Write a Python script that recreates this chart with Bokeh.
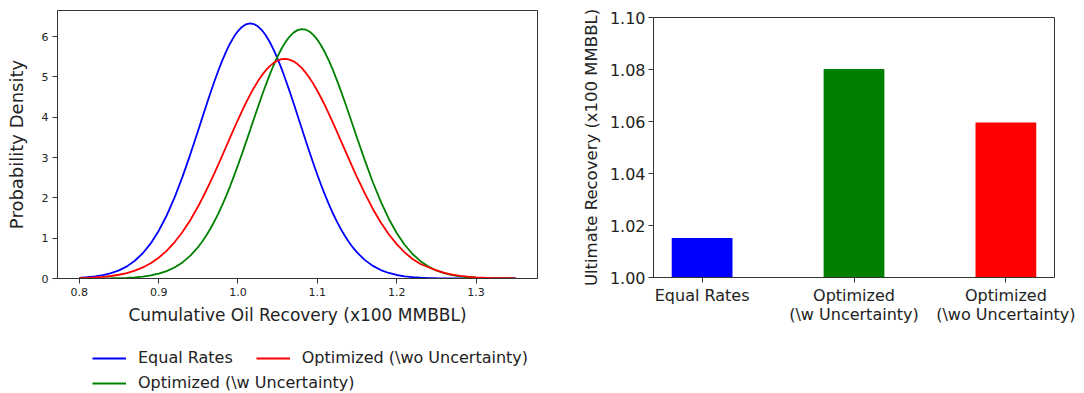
from bokeh.plotting import figure
from bokeh.models import Range1d, FixedTicker, Legend, LegendItem, NumeralTickFormatter
from bokeh.layouts import row, column
from bokeh.embed import file_html
from bokeh.resources import INLINE

# ---------------- data ----------------
recovery = [0.80, 0.81, 0.82, 0.83, 0.84, 0.85, 0.86, 0.87, 0.88, 0.89,
            0.90, 0.91, 0.92, 0.93, 0.94, 0.95,
            0.955, 0.96, 0.965, 0.97, 0.975, 0.98, 0.985, 0.99, 0.995, 1.00,
            1.005, 1.01, 1.015, 1.02, 1.025, 1.03, 1.035, 1.04, 1.045, 1.05,
            1.055, 1.06, 1.065, 1.07, 1.075, 1.08, 1.085, 1.09, 1.095, 1.10,
            1.105, 1.11, 1.115, 1.12, 1.125, 1.13, 1.135, 1.14, 1.145,
            1.15, 1.16, 1.17, 1.18, 1.19, 1.20, 1.21, 1.22, 1.23, 1.24,
            1.25, 1.26, 1.27, 1.28, 1.29, 1.30, 1.31, 1.32, 1.33, 1.34, 1.35]

equal_rates = [0.018, 0.031, 0.051, 0.083, 0.131, 0.201, 0.301, 0.440, 0.627, 0.870,
               1.180, 1.558, 2.007, 2.521, 3.087, 3.687,
               3.992, 4.294, 4.591, 4.877, 5.148, 5.401, 5.630, 5.832, 6.003, 6.141,
               6.243, 6.306, 6.330, 6.314, 6.258, 6.165, 6.034, 5.869, 5.673, 5.449,
               5.200, 4.933, 4.649, 4.354, 4.052, 3.748, 3.445, 3.146, 2.855, 2.575,
               2.308, 2.055, 1.819, 1.600, 1.398, 1.214, 1.048, 0.898, 0.765,
               0.648, 0.456, 0.313, 0.209, 0.137, 0.087, 0.054, 0.033, 0.019, 0.011,
               0.006, 0.003, 0.002, 0.001, 0.001, 0.000, 0.000, 0.000, 0.000, 0.000, 0.000]

opt_w_unc = [0.000, 0.001, 0.002, 0.003, 0.006, 0.010, 0.017, 0.029, 0.048, 0.077,
             0.121, 0.184, 0.274, 0.399, 0.567, 0.787,
             0.919, 1.065, 1.229, 1.408, 1.604, 1.817, 2.045, 2.288, 2.545, 2.813,
             3.092, 3.377, 3.667, 3.958, 4.246, 4.529, 4.800, 5.058, 5.297, 5.515,
             5.707, 5.871, 6.003, 6.101, 6.163, 6.189, 6.178, 6.130, 6.046, 5.927,
             5.776, 5.595, 5.387, 5.156, 4.905, 4.638, 4.360, 4.074, 3.784,
             3.493, 2.924, 2.389, 1.906, 1.484, 1.128, 0.838, 0.607, 0.430, 0.297,
             0.200, 0.132, 0.085, 0.053, 0.032, 0.019, 0.011, 0.006, 0.004, 0.002, 0.001]

opt_wo_unc = [0.010, 0.017, 0.026, 0.041, 0.062, 0.093, 0.135, 0.194, 0.274, 0.379,
              0.515, 0.687, 0.898, 1.153, 1.453, 1.798,
              1.987, 2.184, 2.390, 2.603, 2.821, 3.044, 3.269, 3.495, 3.719, 3.939,
              4.152, 4.356, 4.549, 4.729, 4.892, 5.039, 5.165, 5.269, 5.351, 5.409,
              5.442, 5.450, 5.432, 5.389, 5.321, 5.231, 5.116, 4.982, 4.829, 4.659,
              4.473, 4.275, 4.067, 3.851, 3.630, 3.405, 3.179, 2.954, 2.733,
              2.516, 2.104, 1.726, 1.390, 1.099, 0.852, 0.649, 0.485, 0.360, 0.280,
              0.200, 0.140, 0.095, 0.065, 0.045, 0.030, 0.020, 0.013, 0.009, 0.006, 0.004]

x_ticks = [0.8, 0.9, 1.0, 1.1, 1.2, 1.3]
y_ticks = [0, 1, 2, 3, 4, 5, 6]

series_labels = ["Equal Rates", "Optimized (\\w Uncertainty)", "Optimized (\\wo Uncertainty)"]
series_colors = ["#0000ff", "#008000", "#ff0000"]

bar_categories = ["Equal Rates", "Optimized\n(\\w Uncertainty)", "Optimized\n(\\wo Uncertainty)"]
bar_values = [1.0152, 1.0802, 1.0596]
bar_colors = ["#0000ff", "#008000", "#ff0000"]
bar_y_ticks = [1.00, 1.02, 1.04, 1.06, 1.08, 1.10]

FONT = "DejaVu Sans"
TXT = "#222222"
AX = "#333333"


def style_axes(p, tick_size):
    p.xgrid.grid_line_color = None
    p.ygrid.grid_line_color = None
    p.outline_line_color = AX
    p.outline_line_width = 1
    p.outline_line_alpha = 1
    p.background_fill_color = "white"
    p.border_fill_color = "white"
    for ax in (p.xaxis[0], p.yaxis[0]):
        ax.axis_line_color = AX
        ax.major_tick_line_color = AX
        ax.major_tick_in = 0
        ax.major_tick_out = 5
        ax.minor_tick_line_color = None
        ax.major_label_text_font = FONT
        ax.major_label_text_font_size = tick_size
        ax.major_label_text_color = TXT
        ax.axis_label_text_font = FONT
        ax.axis_label_text_font_style = "normal"
        ax.axis_label_text_color = TXT


series = [equal_rates, opt_w_unc, opt_wo_unc]

# ---------------- left: density curves ----------------
p1 = figure(width=553, height=328, output_backend="svg", toolbar_location=None,
            x_range=Range1d(0.7725, 1.3775), y_range=Range1d(0, 6.65),
            min_border_left=57, min_border_right=16, min_border_top=10,
            min_border_bottom=50)
p1.frame_align = False
for ys, col in zip(series, series_colors):
    p1.line(recovery, ys, line_color=col, line_width=1.8)

style_axes(p1, "11px")
p1.xaxis.ticker = FixedTicker(ticks=x_ticks)
p1.xaxis.formatter = NumeralTickFormatter(format="0.0")
p1.yaxis.ticker = FixedTicker(ticks=y_ticks)
p1.yaxis.formatter = NumeralTickFormatter(format="0")
p1.xaxis.axis_label = "Cumulative Oil Recovery (x100 MMBBL)"
p1.xaxis.axis_label_text_font_size = "17px"
p1.xaxis.axis_label_standoff = 6
p1.xaxis.major_label_standoff = 4
p1.yaxis.axis_label = "Probability Density"
p1.yaxis.axis_label_text_font_size = "18px"
p1.yaxis.axis_label_standoff = 12
p1.yaxis.major_label_standoff = 4

# ---------------- legend strip below the left plot ----------------
# (same series drawn far outside this strip's view; only the legend shows)
pl = figure(width=553, height=65, output_backend="svg", toolbar_location=None,
            x_range=Range1d(10, 11), y_range=Range1d(10, 11),
            x_axis_location=None, y_axis_location=None,
            min_border_left=0, min_border_right=0, min_border_top=0, min_border_bottom=0)
pl.frame_align = False
pl.xgrid.grid_line_color = None
pl.ygrid.grid_line_color = None
pl.outline_line_color = None
leg_r = [pl.line(recovery, ys, line_color=c, line_width=1.8)
         for ys, c in zip(series, series_colors)]

legA = Legend(items=[LegendItem(label=series_labels[0], renderers=[leg_r[0]]),
                     LegendItem(label=series_labels[2], renderers=[leg_r[2]])],
              orientation="horizontal", location=(92, 26))
legB = Legend(items=[LegendItem(label=series_labels[1], renderers=[leg_r[1]])],
              orientation="horizontal", location=(92, 1))
for leg in (legA, legB):
    leg.padding = 0
    leg.margin = 0
    leg.spacing = 23
    leg.glyph_width = 34
    leg.glyph_height = 16
    leg.label_height = 16
    leg.label_standoff = 12
    leg.label_text_font = FONT
    leg.label_text_font_size = "16px"
    leg.label_text_color = TXT
    leg.border_line_color = None
    leg.background_fill_alpha = 0
    pl.add_layout(leg)

# ---------------- right: bar chart ----------------
positions = list(range(len(bar_categories)))
p2 = figure(width=531, height=348, output_backend="svg", toolbar_location=None,
            x_range=Range1d(-0.32, 2.32), y_range=Range1d(1.0, 1.10),
            min_border_left=100, min_border_right=30, min_border_top=17,
            min_border_bottom=71)
p2.frame_align = False
p2.vbar(x=positions, top=bar_values, bottom=0, width=0.4,
        fill_color=bar_colors, line_color=None)
style_axes(p2, "16px")
p2.xaxis.ticker = FixedTicker(ticks=positions)
p2.xaxis.major_label_overrides = {i: lab for i, lab in zip(positions, bar_categories)}
p2.xaxis.major_label_standoff = 3
p2.xaxis.major_label_text_line_height = 1.05
p2.yaxis.ticker = FixedTicker(ticks=bar_y_ticks)
p2.yaxis.formatter = NumeralTickFormatter(format="0.00")
p2.yaxis.major_label_standoff = 3
p2.yaxis.axis_label = "Ultimate Recovery (x100 MMBBL)"
p2.yaxis.axis_label_text_font_size = "16.5px"
p2.yaxis.axis_label_standoff = 6

layout = row(column(p1, pl), p2)
open("out.html", "w").write(file_html(layout, INLINE))
